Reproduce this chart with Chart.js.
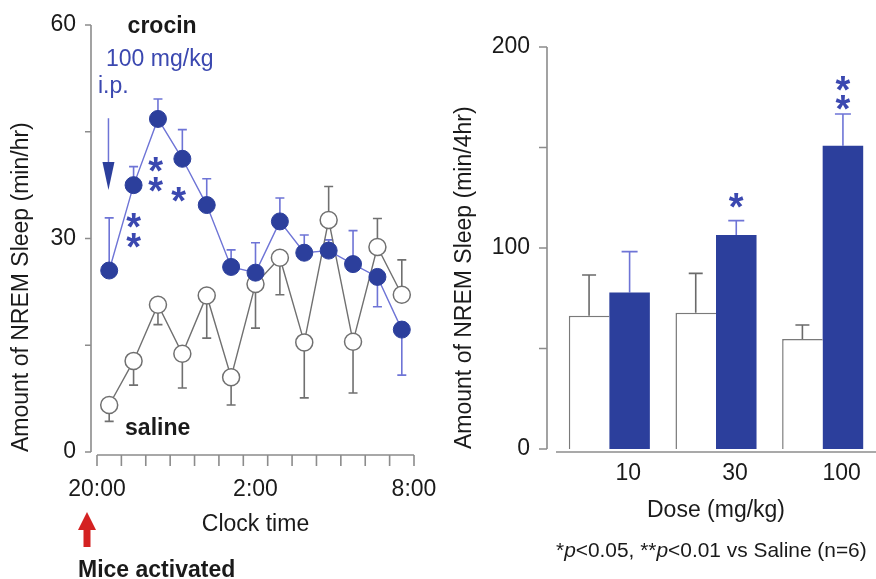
<!DOCTYPE html>
<html>
<head>
<meta charset="utf-8">
<title>Crocin and NREM sleep</title>
<script src="https://cdn.jsdelivr.net/npm/chart.js@4.4.1/dist/chart.umd.min.js"></script>
<style>
  html, body { margin: 0; padding: 0; background: #fff; }
  #wrap { position: relative; width: 876px; height: 579px; overflow: hidden; }
  #leftBox { position: absolute; left: 0; top: 0; width: 440px; height: 579px; }
  #rightBox { position: absolute; left: 440px; top: 0; width: 436px; height: 579px; }
</style>
</head>
<body>
<div id="wrap">
  <div id="leftBox"><canvas id="timeChart"></canvas></div>
  <div id="rightBox"><canvas id="doseChart"></canvas></div>
</div>
<script>
// hourly NREM sleep (min/hr), 13 bins from 20:00 to 8:00
const crocinHourly    = [25.5, 37.5, 46.8, 41.2, 34.7, 26.0, 25.2, 32.4, 28.0, 28.3, 26.4, 24.6, 17.2];
const crocinHourlyErr = [7.4, 2.6, 2.8, 4.1, 3.7, 2.4, 4.2, 3.3, 2.5, 1.5, 4.7, -4.2, -6.4];
const salineHourly    = [6.6, 12.8, 20.7, 13.8, 22.0, 10.5, 23.6, 27.3, 15.4, 32.6, 15.5, 28.8, 22.1];
const salineHourlyErr = [-2.3, -3.4, -2.8, -4.8, -6.0, -3.9, -6.2, -5.2, -7.8, 4.7, -7.2, 4.0, 4.9];
const timeTickValues  = [0, 6.5, 13];
const timeTickLabels  = ['20:00', '2:00', '8:00'];
// significance marks on the time course (bin, value)
const timeStars = [[1.5, 32.9], [1.5, 30.1], [2.4, 40.8], [2.4, 38.0], [3.35, 36.6]];

// total NREM sleep over 4 hr by dose
const doses          = ['10', '30', '100'];
const salineTotal    = [66.3, 67.8, 54.7];
const salineTotalErr = [20.3, 19.6, 7.0];
const crocinTotal    = [77.8, 106.5, 150.9];
const crocinTotalErr = [20.4, 7.1, 15.8];
const doseStars = [[1, 124.9], [2, 173.6], [2, 183.0]];

const FONT = 'Liberation Sans, Arial, Helvetica, sans-serif';
const AXIS = '#8c8c8c';
const INK = '#1a1a1a';
const BLUE = '#2c3f9c';
const BLUE_LINE = '#6e74d6';
const BLUE_TEXT = '#3b48b0';
const GREY = '#707070';

Chart.defaults.font.family = FONT;
Chart.defaults.color = INK;

// fixed scale boxes, no extra room for label overhang
function fixBox(size) {
  return (scale) => {
    if (scale.isHorizontal()) scale.height = size; else scale.width = size;
    scale.paddingLeft = scale.paddingRight = scale.paddingTop = scale.paddingBottom = 0;
  };
}

function drawErrorBars(chart, dsIndex, errs, color, cap) {
  const meta = chart.getDatasetMeta(dsIndex);
  const ys = chart.scales.y;
  const ctx = chart.ctx;
  ctx.save();
  ctx.strokeStyle = color;
  ctx.lineWidth = 1.6;
  meta.data.forEach((el, i) => {
    const raw = chart.data.datasets[dsIndex].data[i];
    const v = typeof raw === 'object' ? raw.y : raw;
    const yEnd = ys.getPixelForValue(v + errs[i]);
    ctx.beginPath();
    ctx.moveTo(el.x, el.y);
    ctx.lineTo(el.x, yEnd);
    ctx.moveTo(el.x - cap / 2, yEnd);
    ctx.lineTo(el.x + cap / 2, yEnd);
    ctx.stroke();
  });
  ctx.restore();
}

function drawStar(ctx, x, y) {
  ctx.save();
  ctx.fillStyle = BLUE_TEXT;
  ctx.font = 'bold 38px ' + FONT;
  ctx.textAlign = 'center';
  ctx.textBaseline = 'alphabetic';
  ctx.fillText('*', x, y + 22);
  ctx.restore();
}

// detached axes: y line left of the plot, x line just under zero
function drawYAxis(chart, gap, tickLen) {
  const ctx = chart.ctx, ys = chart.scales.y;
  const x = chart.chartArea.left - gap;
  ctx.save();
  ctx.strokeStyle = AXIS;
  ctx.lineWidth = 1.6;
  ctx.beginPath();
  ctx.moveTo(x, ys.getPixelForValue(ys.max));
  ctx.lineTo(x, ys.getPixelForValue(0));
  ys.ticks.forEach(t => {
    const py = ys.getPixelForValue(t.value);
    ctx.moveTo(x - tickLen, py);
    ctx.lineTo(x, py);
  });
  ctx.stroke();
  ctx.restore();
}

const timePlugin = {
  id: 'timeExtras',
  beforeDatasetsDraw(chart) {
    drawErrorBars(chart, 1, salineHourlyErr, GREY, 9);
    drawErrorBars(chart, 0, crocinHourlyErr, BLUE_LINE, 9);
  },
  afterDraw(chart) {
    const ctx = chart.ctx, xs = chart.scales.x, ys = chart.scales.y;
    drawYAxis(chart, 6, 6);
    // x axis with bin edges
    const yAx = ys.getPixelForValue(0) + 3;
    ctx.save();
    ctx.strokeStyle = AXIS;
    ctx.lineWidth = 1.6;
    ctx.beginPath();
    ctx.moveTo(xs.getPixelForValue(0), yAx);
    ctx.lineTo(xs.getPixelForValue(crocinHourly.length), yAx);
    for (let i = 0; i <= crocinHourly.length; i++) {
      const px = xs.getPixelForValue(i);
      ctx.moveTo(px, yAx);
      ctx.lineTo(px, yAx + 11);
    }
    ctx.stroke();
    ctx.restore();

    timeStars.forEach(s => drawStar(ctx, xs.getPixelForValue(s[0]), ys.getPixelForValue(s[1])));

    ctx.save();
    ctx.textBaseline = 'alphabetic';
    ctx.fillStyle = INK;
    ctx.font = 'bold 23px ' + FONT;
    ctx.textAlign = 'center';
    ctx.fillText('crocin', xs.getPixelForValue(2.67), ys.getPixelForValue(58.9));
    ctx.textAlign = 'left';
    ctx.fillText('saline', xs.getPixelForValue(1.15), ys.getPixelForValue(2.4));
    ctx.fillStyle = BLUE_TEXT;
    ctx.font = '23px ' + FONT;
    ctx.fillText('100 mg/kg', xs.getPixelForValue(0.37), ys.getPixelForValue(54.2));
    ctx.fillText('i.p.', xs.getPixelForValue(0.04), ys.getPixelForValue(50.4));

    // injection arrow
    const ax = xs.getPixelForValue(0.47);
    const aTop = ys.getPixelForValue(46.9), aTip = ys.getPixelForValue(36.8);
    ctx.strokeStyle = BLUE_LINE;
    ctx.lineWidth = 1.5;
    ctx.beginPath();
    ctx.moveTo(ax, aTop);
    ctx.lineTo(ax, aTip - 20);
    ctx.stroke();
    ctx.fillStyle = BLUE;
    ctx.beginPath();
    ctx.moveTo(ax - 6, aTip - 28);
    ctx.lineTo(ax + 6, aTip - 28);
    ctx.lineTo(ax, aTip);
    ctx.closePath();
    ctx.fill();

    // lights-off arrow and label under the time axis
    const rx = xs.getPixelForValue(0) - 10;
    ctx.fillStyle = '#d42222';
    ctx.beginPath();
    ctx.moveTo(rx, 512);
    ctx.lineTo(rx + 9, 530);
    ctx.lineTo(rx + 3.5, 530);
    ctx.lineTo(rx + 3.5, 547);
    ctx.lineTo(rx - 3.5, 547);
    ctx.lineTo(rx - 3.5, 530);
    ctx.lineTo(rx - 9, 530);
    ctx.closePath();
    ctx.fill();
    ctx.fillStyle = INK;
    ctx.font = 'bold 23px ' + FONT;
    ctx.textAlign = 'left';
    ctx.fillText('Mice activated', 78, 577);
    ctx.restore();
  }
};

const dosePlugin = {
  id: 'doseExtras',
  beforeDatasetsDraw(chart) {
    drawErrorBars(chart, 0, salineTotalErr, '#6a6a6a', 14);
    drawErrorBars(chart, 1, crocinTotalErr, BLUE_LINE, 16);
  },
  afterDraw(chart) {
    const ctx = chart.ctx, ys = chart.scales.y;
    drawYAxis(chart, 9, 8);
    const yAx = ys.getPixelForValue(0) + 3;
    ctx.save();
    ctx.strokeStyle = AXIS;
    ctx.lineWidth = 1.6;
    ctx.beginPath();
    ctx.moveTo(chart.chartArea.left, yAx);
    ctx.lineTo(chart.chartArea.right, yAx);
    ctx.stroke();
    ctx.restore();

    const bars = chart.getDatasetMeta(1).data;
    doseStars.forEach(s => drawStar(ctx, bars[s[0]].x, ys.getPixelForValue(s[1])));

    // footnote
    const parts = [
      { t: '*', f: '20.9px ' },
      { t: 'p', f: 'italic 20.9px ' },
      { t: '<0.05, ', f: '20.9px ' },
      { t: '**', f: '20.9px ' },
      { t: 'p', f: 'italic 20.9px ' },
      { t: '<0.01 vs Saline (n=6)', f: '20.9px ' }
    ];
    ctx.save();
    ctx.fillStyle = INK;
    ctx.textAlign = 'left';
    ctx.textBaseline = 'alphabetic';
    let x = chart.chartArea.left;
    parts.forEach(p => {
      ctx.font = p.f + FONT;
      ctx.fillText(p.t, x, 557);
      x += ctx.measureText(p.t).width;
    });
    ctx.restore();
  }
};

new Chart(document.getElementById('timeChart'), {
  type: 'line',
  data: {
    datasets: [
      {
        label: 'crocin',
        data: crocinHourly.map((v, i) => ({ x: i + 0.5, y: v })),
        borderColor: BLUE_LINE,
        borderWidth: 1.4,
        pointRadius: 8.5,
        pointBackgroundColor: BLUE,
        pointBorderColor: BLUE,
        pointBorderWidth: 1,
        tension: 0,
        clip: false
      },
      {
        label: 'saline',
        data: salineHourly.map((v, i) => ({ x: i + 0.5, y: v })),
        borderColor: GREY,
        borderWidth: 1.4,
        pointRadius: 8.5,
        pointBackgroundColor: '#ffffff',
        pointBorderColor: GREY,
        pointBorderWidth: 1.5,
        tension: 0,
        clip: false
      }
    ]
  },
  options: {
    responsive: true,
    maintainAspectRatio: false,
    animation: false,
    layout: { autoPadding: false, padding: { left: 0, right: 26, top: 25, bottom: 41 } },
    plugins: { legend: { display: false }, tooltip: { enabled: false } },
    scales: {
      x: {
        type: 'linear',
        min: 0,
        max: crocinHourly.length,
        grid: { display: false, drawTicks: false },
        border: { display: false },
        afterBuildTicks: (axis) => { axis.ticks = timeTickValues.map(v => ({ value: v })); },
        afterFit: fixBox(86),
        ticks: {
          autoSkip: false,
          maxRotation: 0,
          padding: 24,
          font: { size: 23 },
          color: INK,
          callback: (v) => timeTickLabels[timeTickValues.indexOf(v)] ?? ''
        },
        title: { display: true, text: 'Clock time', font: { size: 23 }, color: INK, padding: { top: 7, bottom: 0 } }
      },
      y: {
        min: 0,
        max: 60,
        grid: { display: false, drawTicks: false },
        border: { display: false },
        afterFit: fixBox(97),
        ticks: {
          stepSize: 15,
          padding: 21,
          font: { size: 23 },
          color: INK,
          callback: (v) => (v % 30 === 0 ? v : '')
        },
        title: {
          display: true,
          text: 'Amount of NREM Sleep (min/hr)',
          align: 'start',
          font: { size: 23 },
          color: INK,
          padding: { top: 8, bottom: 0 }
        }
      }
    }
  },
  plugins: [timePlugin]
});

new Chart(document.getElementById('doseChart'), {
  type: 'bar',
  data: {
    labels: doses,
    datasets: [
      {
        label: 'Saline',
        data: salineTotal,
        backgroundColor: '#ffffff',
        borderColor: '#7a7a7a',
        borderWidth: { top: 1.5, left: 1.5, right: 0, bottom: 0 },
        categoryPercentage: 0.76,
        barPercentage: 1.0
      },
      {
        label: 'Crocin',
        data: crocinTotal,
        backgroundColor: BLUE,
        borderWidth: 0,
        categoryPercentage: 0.76,
        barPercentage: 1.0
      }
    ]
  },
  options: {
    responsive: true,
    maintainAspectRatio: false,
    animation: false,
    layout: { autoPadding: false, padding: { left: 0, right: 0, top: 47, bottom: 55 } },
    plugins: { legend: { display: false }, tooltip: { enabled: false } },
    scales: {
      x: {
        grid: { display: false, drawTicks: false },
        border: { display: false },
        afterFit: fixBox(75),
        ticks: { padding: 11, labelOffset: 19, font: { size: 23 }, color: INK, maxRotation: 0 },
        title: { display: true, text: 'Dose (mg/kg)', font: { size: 23 }, color: INK, padding: { top: 9, bottom: 0 } }
      },
      y: {
        min: 0,
        max: 200,
        grid: { display: false, drawTicks: false },
        border: { display: false },
        afterFit: fixBox(116),
        ticks: {
          stepSize: 50,
          padding: 26,
          font: { size: 23 },
          color: INK,
          callback: (v) => (v % 100 === 0 ? v : '')
        },
        title: {
          display: true,
          text: 'Amount of NREM Sleep (min/4hr)',
          align: 'start',
          font: { size: 23 },
          color: INK,
          padding: { top: 11, bottom: 0 }
        }
      }
    }
  },
  plugins: [dosePlugin]
});
</script>
</body>
</html>
